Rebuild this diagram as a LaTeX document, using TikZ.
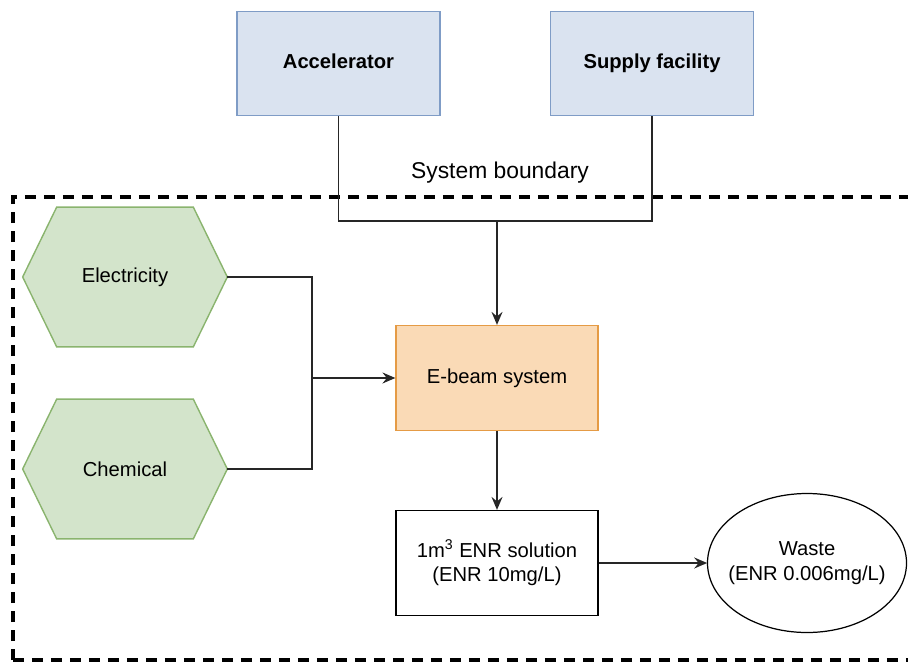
\documentclass[tikz,border=0pt]{standalone}
\usepackage{fontspec}
\setmainfont{Liberation Sans}
\usepackage{xcolor}
\usepackage{tikz}
\usetikzlibrary{arrows.meta,positioning,calc,shapes.geometric,backgrounds}

\definecolor{accFill}{HTML}{DAE3F0}
\definecolor{accLine}{HTML}{7F9CC6}
\definecolor{hexFill}{HTML}{D3E4CB}
\definecolor{hexLine}{HTML}{8AB46E}
\definecolor{ebFill}{HTML}{FADAB6}
\definecolor{ebLine}{HTML}{E59B45}

\begin{document}
\begin{tikzpicture}[
      x=0.02cm, y=-0.02cm,
      font=\fontsize{11.5}{14}\selectfont,
      unit/.style={draw=accLine, fill=accFill, line width=0.7pt,
                   minimum width=4.06cm, minimum height=2.08cm,
                   text height=0.75em, text depth=0.22em,
                   font=\fontsize{11.5}{14}\selectfont\bfseries},
      hexnode/.style={minimum width=4.08cm, minimum height=2.78cm, inner sep=0pt},
      procbox/.style={draw, minimum width=4.04cm, minimum height=2.1cm,
                      align=center, line width=0.7pt},
      wire/.style={draw=black!85, line width=1pt},
      arr/.style={wire, -{Stealth[length=2.6mm, width=2.2mm, inset=0.9mm]}}]

    %% page = reference frame, 908 x 662 px, y runs downwards
    \useasboundingbox (0,0) rectangle (908,662);
    \clip (0,0) rectangle (908,662);

    %% ---- outside the boundary ----
    \node[unit] (acc) at (338.5,63.5) {Accelerator};
    \node[unit] (sup) at (652,63.5) {Supply facility};
    \node[font=\fontsize{13}{15}\selectfont] (bnd) at (500,173) {System boundary};

    %% dashed boundary, cut by the right and bottom page edges
    \draw[line width=1.8pt, dash pattern=on 0.22cm off 0.16cm]
      (13,660) -- (13,197) -- (930,197);
    \draw[line width=1.8pt, dash pattern=on 0.22cm off 0.16cm]
      (13,660) -- (930,660);

    %% ---- inputs (hexagons are drawn behind their labels) ----
    \node[hexnode] (elec) at (125,277) {Electricity};
    \node[hexnode] (chem) at (125,469) {Chemical};
    \begin{scope}[on background layer]
      \foreach \h in {elec,chem}
        \filldraw[fill=hexFill, draw=hexLine, line width=0.8pt]
          (\h.west) -- ($(\h.north west)+(34,0)$) -- ($(\h.north east)+(-34,0)$)
          -- (\h.east) -- ($(\h.south east)+(-34,0)$) -- ($(\h.south west)+(34,0)$)
          -- cycle;
    \end{scope}

    %% ---- process chain ----
    \node[procbox, fill=ebFill, draw=ebLine] (eb) at (497,378) {E-beam system};
    \node[procbox] (enr) at (497,563)
      {1m\textsuperscript{3} ENR solution\\(ENR 10mg/L)};
    %% waste: a box as wide as the ellipse, so .west sits on the outline
    \node[minimum width=3.98cm, minimum height=2.78cm, align=center, inner sep=0pt]
      (waste) at (807,563) {Waste\\(ENR 0.006mg/L)};
    \draw[line width=0.7pt] (waste.center) ellipse [x radius=99.5, y radius=69.5];

    %% ---- connectors ----
    \coordinate (top) at (497,221);
    \coordinate (mix) at (312,378);
    \draw[wire] (acc.south) |- (top) -| (sup.south);
    \draw[arr] (top) -- (eb.north);
    \draw[wire] (elec.east) -| (mix);
    \draw[wire] (chem.east) -| (mix);
    \draw[arr] (mix) -- (eb.west);
    \draw[arr] (eb.south) -- (enr.north);
    \draw[arr] (enr.east) -- (waste.west);
  \end{tikzpicture}
\end{document}
